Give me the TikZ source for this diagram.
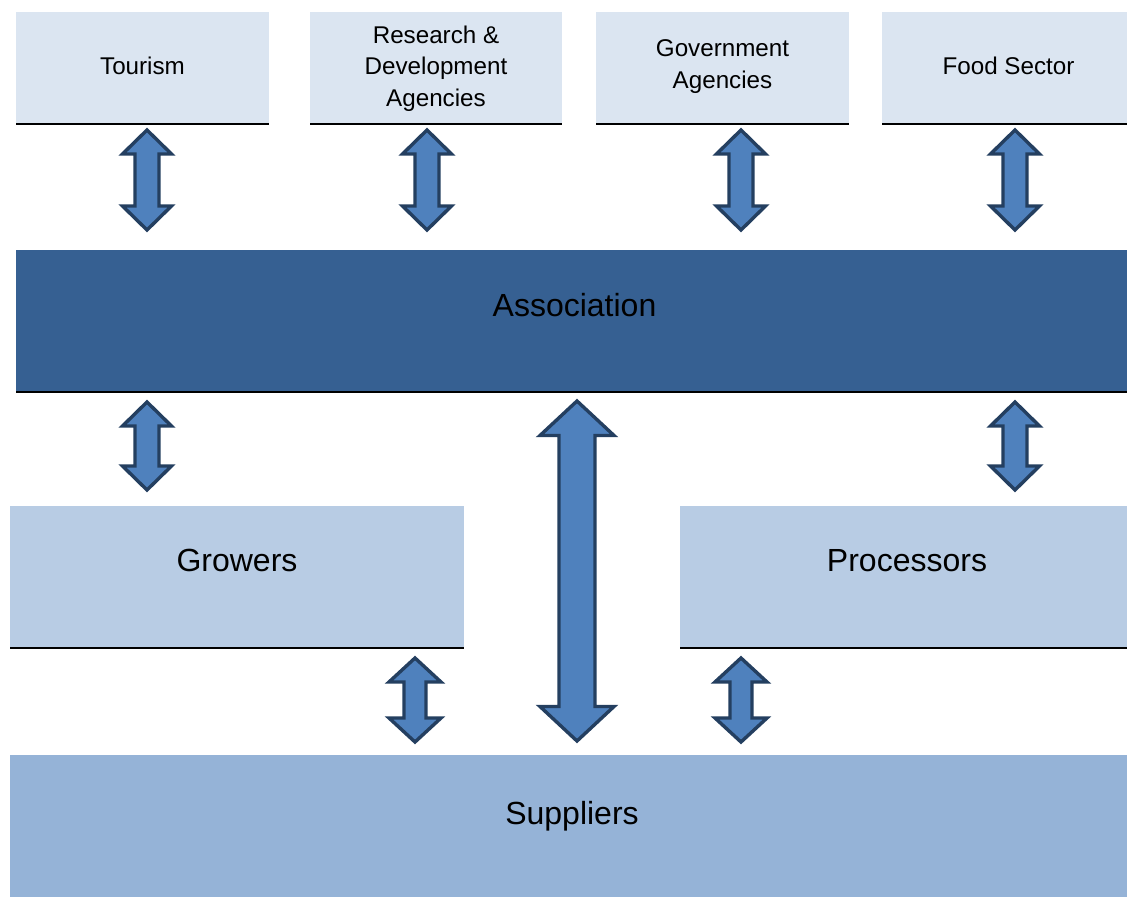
\documentclass[tikz,border=0pt]{standalone}
\usepackage{fontspec}
\setmainfont{Liberation Sans}
\usetikzlibrary{calc}
\definecolor{topfill}{HTML}{DBE5F1}
\definecolor{assocfill}{HTML}{366092}
\definecolor{midfill}{HTML}{B8CCE4}
\definecolor{supfill}{HTML}{95B3D7}
\definecolor{arrfill}{HTML}{4F81BD}
\definecolor{arrline}{HTML}{243F60}
\tikzset{
  boxbase/.style={draw=none, inner sep=0pt, outer sep=0pt, anchor=north west, text=black},
  topbox/.style={boxbase, fill=topfill, minimum height=111pt},
  toptext/.style={inner sep=0pt, align=center, text=black, font=\fontsize{24.2}{31.5}\selectfont},
  bigtext/.style={anchor=base, inner sep=0pt, text=black, font=\fontsize{32}{38}\selectfont},
  underline/.style={line width=2.3pt, draw=black},
  dblarr/.style={fill=arrfill, draw=arrline, line width=3.4pt, line join=miter},
}
\newcommand\dblarrow[5]{%
  \draw[dblarr] (#1) -- ($(#1)+(#3,#5)$) -- ($(#1)+(#4,#5)$) -- ($(#2)+(#4,-#5)$)
    -- ($(#2)+(#3,-#5)$) -- (#2) -- ($(#2)+(-#3,-#5)$) -- ($(#2)+(-#4,-#5)$)
    -- ($(#1)+(-#4,#5)$) -- ($(#1)+(-#3,#5)$) -- cycle;}
\begin{document}
\begin{tikzpicture}[x=1pt, y=-1pt]
\useasboundingbox (0,0) rectangle (1127,897);
% top boxes
\node[topbox, minimum width=253pt] (tour) at (16,12) {};
\node[topbox, minimum width=252pt] (rd) at (310,12) {};
\node[topbox, minimum width=253pt] (gov) at (596,12) {};
\node[topbox, minimum width=245pt] (food) at (882,12) {};
\node[toptext] (tour-t) at ($(tour.center)+(0,-2)$) {Tourism};
\node[toptext] (rd-t) at ($(rd.center)+(0,1)$) {Research \&\\Development\\Agencies};
\node[toptext] (gov-t) at ($(gov.center)+(0,-1)$) {Government\\Agencies};
\node[toptext] (food-t) at ($(food.center)+(4,-2)$) {Food Sector};
\foreach \n in {tour,rd,gov,food}
  \draw[underline] ($(\n.south west)+(0,1)$) -- ($(\n.south east)+(0,1)$);
% association
\node[boxbase, fill=assocfill, minimum width=1111pt, minimum height=141pt] (assoc) at (16,250) {};
\draw[underline] ($(assoc.south west)+(0,1)$) -- ($(assoc.south east)+(0,1)$);
\node[bigtext] (assoc-t) at ($(assoc.center)+(3,-4.5)$) {Association};
% growers / processors
\node[boxbase, fill=midfill, minimum width=454pt, minimum height=141pt] (grow) at (10,506) {};
\node[boxbase, fill=midfill, minimum width=447pt, minimum height=141pt] (proc) at (680,506) {};
\draw[underline] ($(grow.south west)+(0,1.3)$) -- ($(grow.south east)+(0,1.3)$);
\draw[underline] ($(proc.south west)+(0,1.3)$) -- ($(proc.south east)+(0,1.3)$);
\node[bigtext] (grow-t) at ($(grow.center)+(0,-5)$) {Growers};
\node[bigtext] (proc-t) at ($(proc.center)+(3.5,-5)$) {Processors};
% suppliers
\node[boxbase, fill=supfill, minimum width=1117pt, minimum height=142pt] (sup) at (10,755) {};
\node[bigtext] (sup-t) at ($(sup.center)+(3.5,-2)$) {Suppliers};
% arrow end points
\coordinate (a1t) at (147,130);  \coordinate (a1b) at (147,230);
\coordinate (a2t) at (427,130);  \coordinate (a2b) at (427,230);
\coordinate (a3t) at (741,130);  \coordinate (a3b) at (741,230);
\coordinate (a4t) at (1015,130); \coordinate (a4b) at (1015,230);
\coordinate (g1t) at (147,402);  \coordinate (g1b) at (147,490);
\coordinate (p1t) at (1015,402); \coordinate (p1b) at (1015,490);
\coordinate (ct) at (577,401);   \coordinate (cb) at (577,741);
\coordinate (g2t) at (415,658);  \coordinate (g2b) at (415,742);
\coordinate (p2t) at (741,658);  \coordinate (p2b) at (741,742);
% arrows
\dblarrow{a1t}{a1b}{24.5}{12}{24}
\dblarrow{a2t}{a2b}{24.5}{12}{24}
\dblarrow{a3t}{a3b}{24.5}{12}{24}
\dblarrow{a4t}{a4b}{24.5}{12}{24}
\dblarrow{g1t}{g1b}{24.5}{12}{24}
\dblarrow{p1t}{p1b}{24.5}{12}{24}
\dblarrow{ct}{cb}{37}{18}{34.5}
\dblarrow{g2t}{g2b}{26}{11}{24}
\dblarrow{p2t}{p2b}{26}{11}{24}
\end{tikzpicture}
\end{document}
